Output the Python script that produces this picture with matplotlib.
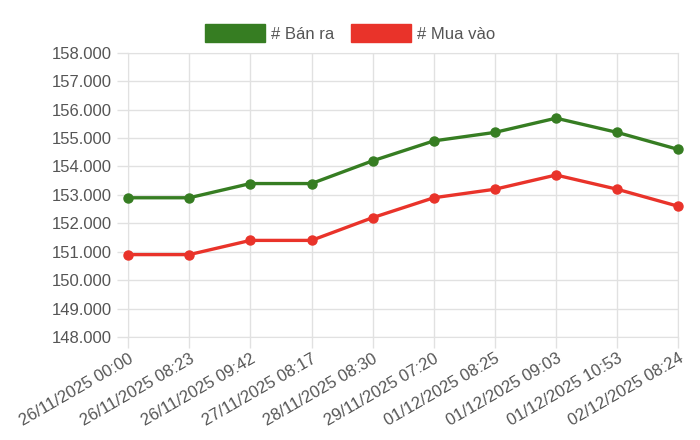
import matplotlib.pyplot as plt
from matplotlib.patches import Patch
from matplotlib.ticker import FuncFormatter, MultipleLocator

plt.rcParams['font.family'] = ['Liberation Sans', 'DejaVu Sans']

labels = ["26/11/2025 00:00", "26/11/2025 08:23", "26/11/2025 09:42",
          "27/11/2025 08:17", "28/11/2025 08:30", "29/11/2025 07:20",
          "01/12/2025 08:25", "01/12/2025 09:03", "01/12/2025 10:53",
          "02/12/2025 08:24"]
ban_ra = [152900, 152900, 153400, 153400, 154200, 154900, 155200, 155700, 155200, 154600]
mua_vao = [150900, 150900, 151400, 151400, 152200, 152900, 153200, 153700, 153200, 152600]

green = "#367d22"
red = "#e9332a"
grid_c = "#e1e1e1"
txt_c = "#555555"

fig = plt.figure(figsize=(7, 4.4), dpi=100)
ax = fig.add_axes([0.183, 0.234, 0.786, 0.646])

x = list(range(len(labels)))
ax.plot(x, ban_ra, color=green, lw=2.4, marker="o", ms=6.5, zorder=3, clip_on=False)
ax.plot(x, mua_vao, color=red, lw=2.4, marker="o", ms=6.5, zorder=3, clip_on=False)

ax.set_xlim(0, len(labels) - 1)
ax.set_ylim(148000, 158000)
ax.yaxis.set_major_locator(MultipleLocator(1000))
ax.yaxis.set_major_formatter(FuncFormatter(lambda v, p: f"{v/1000:.3f}"))
ax.set_xticks(x)
ax.set_xticklabels(labels, rotation=30, ha="right", rotation_mode="anchor")

ax.grid(True, color=grid_c, lw=1)
for s in ax.spines.values():
    s.set_color(grid_c)
ax.tick_params(colors=grid_c, length=8, width=1, labelcolor=txt_c, labelsize=12)
ax.tick_params(axis="x", pad=2)
ax.tick_params(axis="y", pad=4)

handles = [Patch(facecolor=green, edgecolor=green, label="# Bán ra"),
           Patch(facecolor=red, edgecolor=red, label="# Mua vào")]
fig.legend(handles=handles, loc="center", bbox_to_anchor=(0.5, 0.925), ncol=2,
           frameon=False, handlelength=3.6, handleheight=1.3, handletextpad=0.35,
           columnspacing=1.0, fontsize=12, labelcolor=txt_c)

fig.savefig("out.png", dpi=100, facecolor="white")
